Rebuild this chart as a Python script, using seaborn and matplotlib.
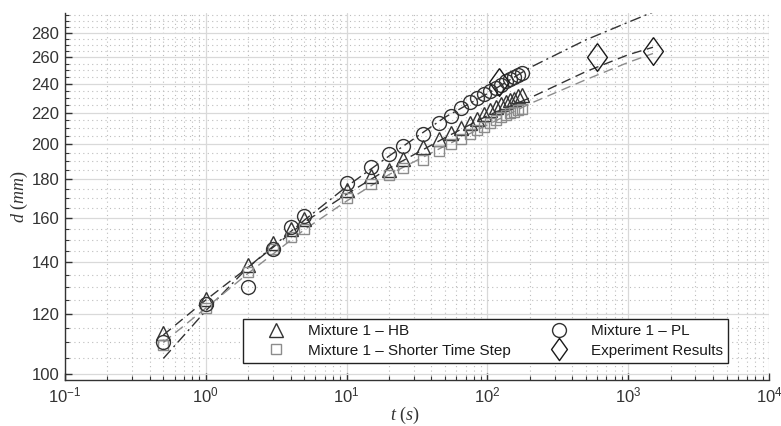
import numpy as np
import seaborn as sns
import matplotlib.pyplot as plt
from matplotlib.ticker import FixedLocator, NullFormatter, LogLocator, FuncFormatter

# simulation output times (s)
t_sim = [0.5, 1, 2, 3, 4, 5, 10, 15, 20, 25, 35, 45, 55, 65, 75, 85, 95,
         105, 115, 125, 135, 145, 155, 165, 175]
d_hb = [113, 125.5, 139, 148.5, 155, 159.5, 174, 182, 185, 191.5, 198.5, 203.5,
        207, 210, 213, 216, 219, 221.5, 223.5, 225.5, 227, 228.5, 229.5, 231, 232]
d_pl = [110, 123.5, 130, 146, 156, 161, 178, 186.5, 194, 199, 206.5, 213,
        217.5, 223, 227, 230, 232.5, 235, 237, 239.5, 242, 243.5, 245, 246.5, 248]
d_short = [109, 122, 136, 146, 151, 155, 170, 177.5, 182.5, 186, 191, 196,
           200, 203, 206, 208.5, 211, 213, 215, 217, 218.5, 219.5, 220.5, 221.5, 222.5]

# experiments
t_exp = [120, 600, 1500]
d_exp = [241.5, 260.5, 265]

# fitted curves
t_fit = [0.5, 1, 2, 5, 10, 20, 50, 100, 200, 500, 1000, 1500]
pl_fit = [104.8, 121, 138, 159, 176, 193, 217, 233, 252, 274, 289, 298]
hb_fit = [112.5, 125, 138, 158, 172, 186, 204, 218, 230, 249, 262, 268]
short_fit = [110, 122, 135.5, 154.5, 168.5, 182.5, 199, 212, 226, 243, 256, 263]

labels = ["Mixture 1 – HB", "Mixture 1 – Shorter Time Step",
          "Mixture 1 – PL", "Experiment Results"]
y_ticks = [100, 120, 140, 160, 180, 200, 220, 240, 260, 280]

sns.set_theme(style="white")
plt.rcParams["font.family"] = ["Liberation Sans", "DejaVu Sans"]
plt.rcParams["mathtext.fontset"] = "custom"
plt.rcParams["mathtext.it"] = "Liberation Serif:italic"
plt.rcParams["mathtext.rm"] = "Liberation Serif"

dark = "#333333"
grey = "#8c8c8c"

fig = plt.figure(figsize=(7.81, 4.26), dpi=100)
ax = fig.add_axes([0.0832, 0.108, 0.9014, 0.861])
ax.set_xscale("log")
ax.set_yscale("log")

# fit lines
sns.lineplot(x=t_fit, y=pl_fit, ax=ax, color=dark, linewidth=1,
             linestyle=(0, (8, 3, 1.5, 3)), estimator=None, sort=False)
sns.lineplot(x=t_fit, y=hb_fit, ax=ax, color=dark, linewidth=1,
             linestyle=(0, (7, 4)), estimator=None, sort=False)
sns.lineplot(x=t_fit, y=short_fit, ax=ax, color=grey, linewidth=1,
             linestyle=(0, (7, 4)), estimator=None, sort=False)

# markers
diamond = [(0, 1.4), (1, 0), (0, -1.4), (-1, 0), (0, 1.4)]
handles = []
for t, d, mk, ms, col in [(t_sim, d_hb, "^", 10, dark),
                          (t_sim, d_short, "s", 7.5, grey),
                          (t_sim, d_pl, "o", 10, dark),
                          (t_exp, d_exp, diamond, 20, "#1a1a1a")]:
    sns.lineplot(x=t, y=d, ax=ax, estimator=None, sort=False, linestyle="none",
                 marker=mk, markersize=ms, markerfacecolor="none",
                 markeredgecolor=col, markeredgewidth=1, color=col)
    handles.append(ax.lines[-1])

ax.set_xlim(0.1, 1e4)
ax.set_ylim(98.2, 297)

ax.yaxis.set_major_locator(FixedLocator(y_ticks))
ax.yaxis.set_major_formatter(FuncFormatter(lambda v, p: f"{v:.0f}"))
ax.yaxis.set_minor_locator(FixedLocator([v for v in range(95, 300, 5) if v % 20]))
ax.yaxis.set_minor_formatter(NullFormatter())
ax.xaxis.set_major_locator(LogLocator(base=10, numticks=10))
ax.xaxis.set_minor_locator(LogLocator(base=10, subs=np.arange(2, 10), numticks=20))
ax.xaxis.set_minor_formatter(NullFormatter())

ax.grid(which="major", color="#d9d9d9", linewidth=0.9, linestyle="-")
ax.grid(which="minor", color="#bdbdbd", linewidth=0.8, linestyle=(0, (1, 3)))
ax.set_axisbelow(True)

for side in ["top", "right"]:
    ax.spines[side].set_visible(False)
for side in ["left", "bottom"]:
    ax.spines[side].set_color(dark)
    ax.spines[side].set_linewidth(1)
ax.tick_params(which="both", direction="in", top=False, right=False,
               left=True, bottom=True, colors=dark, labelsize=12)
ax.tick_params(which="major", length=5, width=1, pad=4)
ax.tick_params(which="minor", length=3, width=0.8)

ax.set_xlabel(r"$t\ (s)$", fontsize=13, color=dark)
ax.set_ylabel(r"$d\ (mm)$", fontsize=13, color=dark)
ax.xaxis.set_label_coords(0.483, -0.068)
ax.yaxis.set_label_coords(-0.05, 0.5)

leg = ax.legend(handles=handles, labels=labels, ncol=2, loc="lower left",
                bbox_to_anchor=(0.253, 0.046, 0.689, 0.13), mode="expand",
                frameon=True, fancybox=False, edgecolor="#222222", framealpha=1,
                fontsize=11, handlelength=3.6, handletextpad=0.3,
                labelspacing=0.35, borderpad=0.35, borderaxespad=0)
leg.get_frame().set_linewidth(1)
leg.legend_handles[3].set_markersize(16)
for txt in leg.get_texts():
    txt.set_color("#1a1a1a")

fig.savefig("out.png", dpi=100)
